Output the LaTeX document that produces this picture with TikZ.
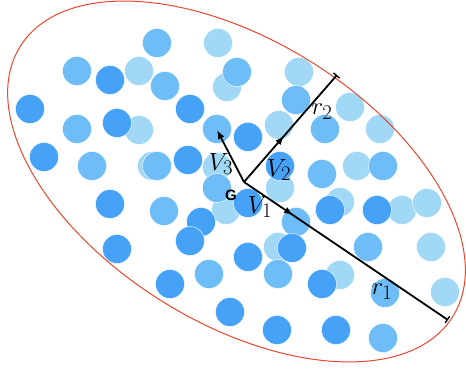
\documentclass[tikz,border=0pt]{standalone}
\usepackage{fontspec}
\newfontfamily\gfont{Liberation Sans}
\usepackage{xcolor}
\definecolor{dotLight}{HTML}{A1D8F6}
\definecolor{dotMid}{HTML}{6FBDF7}
\definecolor{dotDark}{HTML}{46A2F7}
\definecolor{rimRed}{HTML}{E9472E}
\usetikzlibrary{arrows.meta,decorations.markings}
\tikzset{
  vec/.style={line width=1.8pt},
  midarrow/.style={postaction={decorate},decoration={markings,
    mark=at position #1 with {\arrow{Latex[length=9pt,width=7pt]}}}},
  lbl/.style={inner sep=0pt,font=\fontsize{24.88}{30}\selectfont}
}
\begin{document}
\begin{tikzpicture}[x=1pt,y=1pt]
  \useasboundingbox (0,0) rectangle (466,371);
  \filldraw[fill=dotLight, draw=white, line width=0.4pt] (218,328) circle (14.5);
  \filldraw[fill=dotLight, draw=white, line width=0.4pt] (139,300) circle (14.5);
  \filldraw[fill=dotLight, draw=white, line width=0.4pt] (227,284) circle (14.5);
  \filldraw[fill=dotLight, draw=white, line width=0.4pt] (299,299) circle (14.5);
  \filldraw[fill=dotLight, draw=white, line width=0.4pt] (279,246) circle (14.5);
  \filldraw[fill=dotLight, draw=white, line width=0.4pt] (350,264) circle (14.5);
  \filldraw[fill=dotLight, draw=white, line width=0.4pt] (380,242) circle (14.5);
  \filldraw[fill=dotLight, draw=white, line width=0.4pt] (139,241) circle (14.5);
  \filldraw[fill=dotLight, draw=white, line width=0.4pt] (152,205) circle (14.5);
  \filldraw[fill=dotLight, draw=white, line width=0.4pt] (217,204) circle (14.5);
  \filldraw[fill=dotLight, draw=white, line width=0.4pt] (357,205) circle (14.5);
  \filldraw[fill=dotLight, draw=white, line width=0.4pt] (280,183) circle (14.5);
  \filldraw[fill=dotLight, draw=white, line width=0.4pt] (226,161) circle (14.5);
  \filldraw[fill=dotLight, draw=white, line width=0.4pt] (340,169) circle (14.5);
  \filldraw[fill=dotLight, draw=white, line width=0.4pt] (402,161) circle (14.5);
  \filldraw[fill=dotLight, draw=white, line width=0.4pt] (427,168) circle (14.5);
  \filldraw[fill=dotLight, draw=white, line width=0.4pt] (278,124) circle (14.5);
  \filldraw[fill=dotLight, draw=white, line width=0.4pt] (340,96) circle (14.5);
  \filldraw[fill=dotLight, draw=white, line width=0.4pt] (431,124) circle (14.5);
  \filldraw[fill=dotLight, draw=white, line width=0.4pt] (445,79) circle (14.5);
  \filldraw[fill=dotMid, draw=white, line width=0.4pt] (157,328) circle (14.5);
  \filldraw[fill=dotMid, draw=white, line width=0.4pt] (77,300) circle (14.5);
  \filldraw[fill=dotMid, draw=white, line width=0.4pt] (237,299) circle (14.5);
  \filldraw[fill=dotMid, draw=white, line width=0.4pt] (165,285) circle (14.5);
  \filldraw[fill=dotMid, draw=white, line width=0.4pt] (296,271) circle (14.5);
  \filldraw[fill=dotMid, draw=white, line width=0.4pt] (77,242) circle (14.5);
  \filldraw[fill=dotMid, draw=white, line width=0.4pt] (217,242) circle (14.5);
  \filldraw[fill=dotMid, draw=white, line width=0.4pt] (325,242) circle (14.5);
  \filldraw[fill=dotMid, draw=white, line width=0.4pt] (92,205) circle (14.5);
  \filldraw[fill=dotMid, draw=white, line width=0.4pt] (157,205) circle (14.5);
  \filldraw[fill=dotMid, draw=white, line width=0.4pt] (383,205) circle (14.5);
  \filldraw[fill=dotMid, draw=white, line width=0.4pt] (322,197) circle (14.5);
  \filldraw[fill=dotMid, draw=white, line width=0.4pt] (217,183) circle (14.5);
  \filldraw[fill=dotMid, draw=white, line width=0.4pt] (164,160) circle (14.5);
  \filldraw[fill=dotMid, draw=white, line width=0.4pt] (296,149) circle (14.5);
  \filldraw[fill=dotMid, draw=white, line width=0.4pt] (368,124) circle (14.5);
  \filldraw[fill=dotMid, draw=white, line width=0.4pt] (209,97) circle (14.5);
  \filldraw[fill=dotMid, draw=white, line width=0.4pt] (278,97) circle (14.5);
  \filldraw[fill=dotMid, draw=white, line width=0.4pt] (385,78) circle (14.5);
  \filldraw[fill=dotMid, draw=white, line width=0.4pt] (383,33) circle (14.5);
  \filldraw[fill=dotDark, draw=white, line width=0.4pt] (110,291) circle (14.5);
  \filldraw[fill=dotDark, draw=white, line width=0.4pt] (30,262) circle (14.5);
  \filldraw[fill=dotDark, draw=white, line width=0.4pt] (190,262) circle (14.5);
  \filldraw[fill=dotDark, draw=white, line width=0.4pt] (117,248) circle (14.5);
  \filldraw[fill=dotDark, draw=white, line width=0.4pt] (248,234) circle (14.5);
  \filldraw[fill=dotDark, draw=white, line width=0.4pt] (44,214) circle (14.5);
  \filldraw[fill=dotDark, draw=white, line width=0.4pt] (188,211) circle (14.5);
  \filldraw[fill=dotDark, draw=white, line width=0.4pt] (280,205) circle (14.5);
  \filldraw[fill=dotDark, draw=white, line width=0.4pt] (248,168) circle (14.5);
  \filldraw[fill=dotDark, draw=white, line width=0.4pt] (110,167) circle (14.5);
  \filldraw[fill=dotDark, draw=white, line width=0.4pt] (201,149) circle (14.5);
  \filldraw[fill=dotDark, draw=white, line width=0.4pt] (190,130) circle (14.5);
  \filldraw[fill=dotDark, draw=white, line width=0.4pt] (117,122) circle (14.5);
  \filldraw[fill=dotDark, draw=white, line width=0.4pt] (330,161) circle (14.5);
  \filldraw[fill=dotDark, draw=white, line width=0.4pt] (377,161) circle (14.5);
  \filldraw[fill=dotDark, draw=white, line width=0.4pt] (292,123) circle (14.5);
  \filldraw[fill=dotDark, draw=white, line width=0.4pt] (248,114) circle (14.5);
  \filldraw[fill=dotDark, draw=white, line width=0.4pt] (322,87) circle (14.5);
  \filldraw[fill=dotDark, draw=white, line width=0.4pt] (170,87) circle (14.5);
  \filldraw[fill=dotDark, draw=white, line width=0.4pt] (230,59) circle (14.5);
  \filldraw[fill=dotDark, draw=white, line width=0.4pt] (277,41) circle (14.5);
  \filldraw[fill=dotDark, draw=white, line width=0.4pt] (336,41) circle (14.5);
  % boundary
  \draw[rimRed, line width=1pt, rotate around={-32:(236.5,189.5)}]
    (236.5,189.5) ellipse (255 and 141);
  % vectors from G
  \coordinate (G) at (244,189);
  \coordinate (r1end) at (448,51);
  \coordinate (r2end) at (337,296);
  \coordinate (v3end) at (217,241);
  \draw[vec, midarrow=0.24, -{Bar[width=8pt,line width=1.4pt]}] (G) -- (r1end);
  \draw[vec, midarrow=0.43, -{Bar[width=8pt,line width=1.4pt]}] (G) -- (r2end);
  \draw[vec, -{Latex[length=9pt,width=7pt]}] (G) -- (v3end);
  % labels
  \node[lbl] (labG) at (231,176) {\gfont\bfseries\fontsize{15}{18}\selectfont G};
  \node[lbl] (labV1) at (260,164) {$V_1$};
  \node[lbl] (labV2) at (279,201) {$V_2$};
  \node[lbl] (labV3) at (221,207) {$V_3$};
  \node[lbl] (labr1) at (382,79) {$r_1$};
  \node[lbl] (labr2) at (322,259) {$r_2$};
\end{tikzpicture}
\end{document}
